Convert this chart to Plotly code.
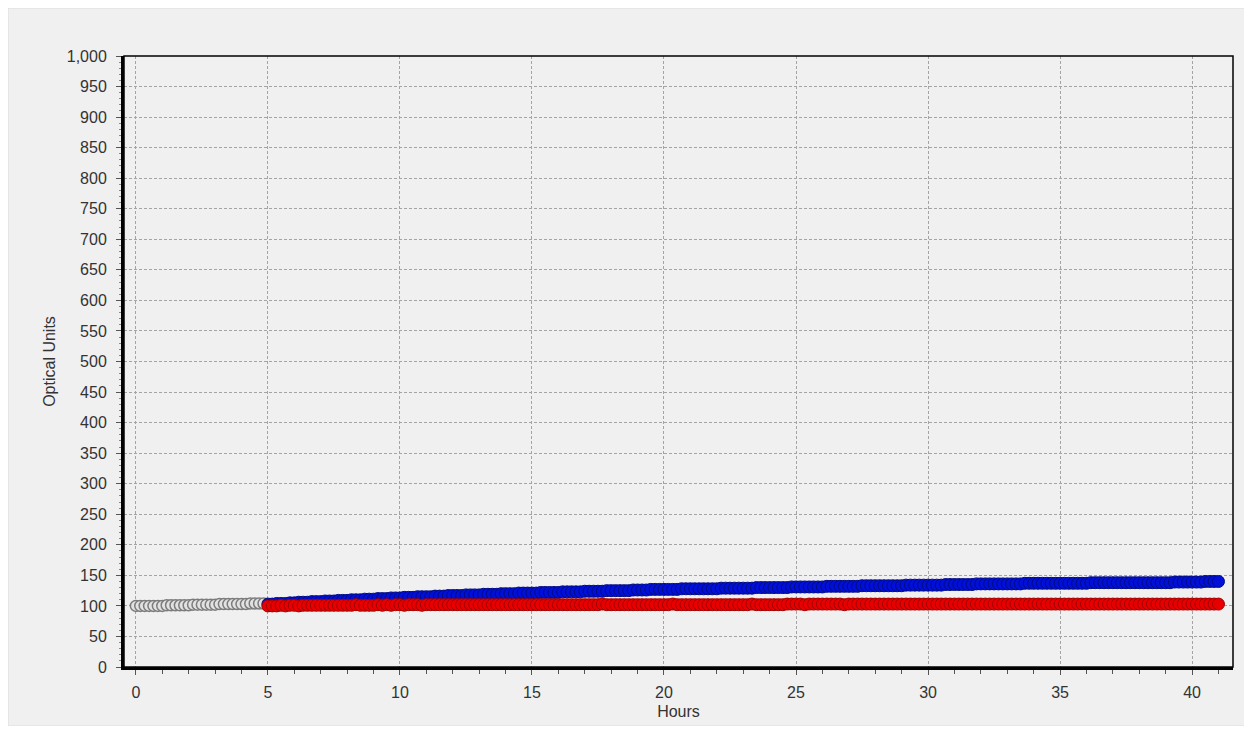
import plotly.graph_objects as go

# sampling: one reading every 10 minutes
SAMPLE_HOURS = 1 / 6

# baseline (grey) readings, 0 h to 4.83 h
gray_start = 0.0
gray_values = [
    100, 100, 100, 100, 100, 100,
    100, 101, 101, 101, 101, 101,
    101, 102, 102, 102, 102, 102,
    102, 103, 103, 103, 103, 103,
    103, 103, 104, 104, 104, 104,
]

# treated readings from 5 h to 41 h
series_start = 5.0
blue_values = [
    103, 103, 104, 104, 104, 105,
    105, 106, 106, 106, 107, 107,
    107, 108, 108, 108, 109, 109,
    109, 110, 110, 110, 111, 111,
    111, 112, 112, 112, 113, 113,
    113, 114, 114, 114, 115, 115,
    115, 115, 116, 116, 116, 117,
    117, 117, 117, 118, 118, 118,
    118, 119, 119, 119, 119, 120,
    120, 120, 120, 121, 121, 121,
    121, 121, 122, 122, 122, 122,
    122, 123, 123, 123, 123, 123,
    124, 124, 124, 124, 124, 125,
    125, 125, 125, 125, 125, 126,
    126, 126, 126, 127, 127, 127,
    127, 127, 127, 127, 128, 128,
    128, 128, 128, 128, 128, 128,
    128, 129, 129, 129, 129, 129,
    129, 129, 129, 130, 130, 130,
    130, 130, 130, 130, 130, 131,
    131, 131, 131, 131, 131, 131,
    131, 132, 132, 132, 132, 132,
    132, 132, 132, 133, 133, 133,
    133, 133, 133, 133, 133, 133,
    133, 134, 134, 134, 134, 134,
    134, 134, 134, 134, 135, 135,
    135, 135, 135, 135, 135, 136,
    136, 136, 136, 136, 136, 136,
    136, 136, 136, 136, 137, 137,
    137, 137, 137, 137, 137, 137,
    137, 137, 137, 137, 137, 137,
    137, 138, 138, 138, 138, 138,
    138, 138, 138, 138, 138, 138,
    138, 138, 138, 138, 138, 138,
    138, 138, 139, 139, 139, 139,
    139, 139, 139, 140, 140, 140,
    140,
]
red_values = [
    100, 100, 100, 101, 100, 101,
    101, 100, 101, 101, 101, 101,
    101, 101, 101, 101, 101, 101,
    101, 101, 102, 101, 101, 101,
    101, 102, 101, 102, 101, 102,
    102, 101, 102, 102, 102, 101,
    102, 102, 102, 102, 102, 102,
    102, 102, 102, 102, 102, 102,
    102, 102, 102, 102, 102, 102,
    102, 102, 102, 102, 102, 102,
    102, 102, 102, 102, 102, 102,
    102, 102, 102, 102, 102, 102,
    102, 102, 102, 102, 103, 102,
    102, 102, 102, 102, 102, 102,
    102, 102, 102, 102, 102, 102,
    102, 102, 103, 102, 102, 102,
    102, 102, 102, 102, 102, 102,
    102, 102, 102, 102, 102, 102,
    102, 102, 103, 102, 102, 102,
    102, 102, 102, 102, 103, 103,
    103, 103, 102, 103, 103, 103,
    103, 103, 103, 103, 103, 102,
    103, 103, 103, 103, 103, 103,
    103, 103, 103, 103, 103, 103,
    103, 103, 103, 103, 103, 103,
    103, 103, 103, 103, 103, 103,
    103, 103, 103, 103, 103, 103,
    103, 103, 103, 103, 103, 103,
    103, 103, 103, 103, 103, 103,
    103, 103, 103, 103, 103, 103,
    103, 103, 103, 103, 103, 103,
    103, 103, 103, 103, 103, 103,
    103, 103, 103, 103, 103, 103,
    103, 103, 103, 103, 103, 103,
    103, 103, 103, 103, 103, 103,
    103, 103, 103, 103, 103, 103,
    103,
]

gray_hours = [gray_start + i * SAMPLE_HOURS for i in range(len(gray_values))]
blue_hours = [series_start + i * SAMPLE_HOURS for i in range(len(blue_values))]
red_hours = [series_start + i * SAMPLE_HOURS for i in range(len(red_values))]

x_ticks = [0, 5, 10, 15, 20, 25, 30, 35, 40]
y_ticks = list(range(0, 1001, 50))

FONT = "Liberation Sans, Arial, sans-serif"
TXT = "#333333"

fig = go.Figure()
fig.add_trace(go.Scatter(
    x=gray_hours, y=gray_values, mode="markers", name="baseline",
    marker=dict(size=11, color="#e2e2e2", line=dict(color="#7c7c7c", width=1.5)),
))
fig.add_trace(go.Scatter(
    x=blue_hours, y=blue_values, mode="markers", name="blue",
    marker=dict(size=12, color="#0010d8", line=dict(color="#000a80", width=1)),
))
fig.add_trace(go.Scatter(
    x=red_hours, y=red_values, mode="markers", name="red",
    marker=dict(size=12, color="#e80000", line=dict(color="#a00000", width=1)),
))

# panel backdrop and plot frame
fig.add_shape(type="rect", xref="paper", yref="paper",
              x0=-0.1046, x1=1.0108, y0=-0.0966, y1=1.0786,
              line=dict(color="#dcdcdc", width=1), fillcolor="#f0f0f0", layer="below")
fig.add_shape(type="rect", xref="paper", yref="paper",
              x0=0, x1=1, y0=0, y1=1,
              line=dict(color="#000000", width=1.5), layer="above")

fig.update_layout(
    width=1236, height=718,
    margin=dict(l=116, r=11, t=48, b=59),
    paper_bgcolor="#f8f8f8",
    plot_bgcolor="#f2f2f2",
    showlegend=False,
    font=dict(family=FONT, size=16, color=TXT),
)
fig.update_xaxes(
    range=[-0.45, 41.55],
    tickmode="array", tickvals=x_ticks, ticktext=[str(v) for v in x_ticks],
    showgrid=True, gridcolor="#a4a4a4", griddash="3px,2px", gridwidth=1,
    zeroline=False, automargin=False,
    showline=True, linecolor="#000000", linewidth=3,
    ticks="outside", ticklen=5, tickcolor="#555555",
    minor=dict(dtick=1, tick0=0, ticks="outside", ticklen=4, tickcolor="#555555", showgrid=False),
    title=dict(text="Hours", font=dict(size=16, family=FONT, color=TXT), standoff=6),
    tickfont=dict(size=16, family=FONT, color=TXT),
    ticklabelstandoff=4,
)
fig.update_yaxes(
    range=[0, 1000],
    tickmode="array", tickvals=y_ticks, ticktext=[f"{v:,}" for v in y_ticks],
    showgrid=True, gridcolor="#a4a4a4", griddash="3px,2px", gridwidth=1,
    zeroline=False, automargin=False,
    showline=True, linecolor="#000000", linewidth=3,
    ticks="outside", ticklen=5, tickcolor="#555555",
    minor=dict(dtick=10, tick0=0, ticks="outside", ticklen=2, tickcolor="#888888", showgrid=False),
    title=dict(text="Optical Units", font=dict(size=16, family=FONT, color=TXT), standoff=8),
    tickfont=dict(size=16, family=FONT, color=TXT),
    ticklabelstandoff=6,
)

fig.write_html("out.html")
